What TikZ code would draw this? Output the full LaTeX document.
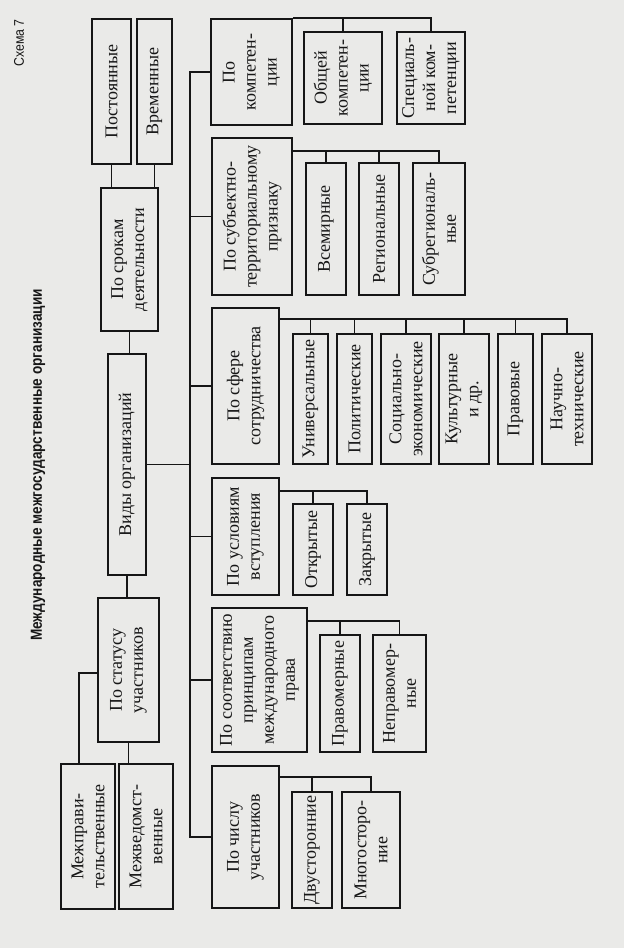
\documentclass[tikz,border=0pt]{standalone}
\usepackage{fontspec}
\setmainfont{Liberation Serif}
\newfontfamily\titlefont[FakeStretch=0.85]{Liberation Sans}
\newfontfamily\schemefont[FakeStretch=0.88]{Liberation Sans}
\definecolor{paper}{RGB}{234,234,232}
\definecolor{ink}{RGB}{22,22,22}

\tikzstyle{box} = [draw=ink, text=ink, line width=1.9pt, rotate=90, align=center, inner sep=2pt, font=\fontsize{18}{21}\selectfont]
\tikzstyle{line} = [draw=ink, line width=1.9pt]

\begin{document}
\begin{tikzpicture}[x=1pt, y=-1pt]
\fill[paper] (0,0) rectangle (624,948);

\node (schema) [rotate=90, text=ink, font=\schemefont\fontsize{14}{16}\selectfont] at (19,43) {Схема 7};
\node (title) [rotate=90, text=ink, font=\titlefont\bfseries\fontsize{16}{19}\selectfont] at (38,465) {Международные межгосударственные организации};

% left column
\node (post) [box, minimum width=145pt, minimum height=39pt] at (111.5,91.5) {Постоянные};
\node (vrem) [box, minimum width=145pt, minimum height=35pt] at (154.5,91.5) {Временные};
\node (srok) [box, minimum width=143pt, minimum height=57pt] at (129.5,259.5) {По срокам\\деятельности};
\node (vid) [box, minimum width=221pt, minimum height=38pt] at (127,464.5) {Виды организаций};
\node (status) [box, minimum width=144pt, minimum height=61pt] at (128.5,670) {По статусу\\участников};
\node (mezhprav) [box, minimum width=145pt, minimum height=54pt] at (88,836.5) {Межправи-\\тельственные};
\node (mezhved) [box, minimum width=145pt, minimum height=54pt] at (146,836.5) {Межведомст-\\венные};

% kinds
\node (komp) [box, minimum width=106pt, minimum height=81pt] at (251.5,72) {По\\компетен-\\ции};
\node (obsh) [box, minimum width=92pt, minimum height=78pt] at (343,78) {Общей\\компетен-\\ции};
\node (spec) [box, minimum width=92pt, minimum height=68pt] at (431,78) {Специаль-\\ной ком-\\петенции};

\node (subj) [box, minimum width=157pt, minimum height=80pt] at (252,216.5) {По субъектно-\\территориальному\\признаку};
\node (vsem) [box, minimum width=132pt, minimum height=40pt] at (326,229) {Всемирные};
\node (reg) [box, minimum width=132pt, minimum height=40pt] at (379,229) {Региональные};
\node (subreg) [box, minimum width=132pt, minimum height=52pt] at (439,229) {Субрегиональ-\\ные};

\node (sfera) [box, minimum width=156pt, minimum height=67pt] at (245.5,386) {По сфере\\сотрудничества};
\node (univ) [box, minimum width=130pt, minimum height=35pt] at (310.5,399) {Универсальные};
\node (polit) [box, minimum width=130pt, minimum height=35pt] at (354.5,399) {Политические};
\node (soc) [box, minimum width=130pt, minimum height=50pt] at (406,399) {Социально-\\экономические};
\node (kult) [box, minimum width=130pt, minimum height=50pt] at (464,399) {Культурные\\и др.};
\node (prav) [box, minimum width=130pt, minimum height=35pt] at (515.5,399) {Правовые};
\node (nauch) [box, minimum width=130pt, minimum height=50pt] at (567,399) {Научно-\\технические};

\node (uslov) [box, minimum width=117pt, minimum height=67pt] at (245.5,536.5) {По условиям\\вступления};
\node (otkr) [box, minimum width=91pt, minimum height=40pt] at (313,549.5) {Открытые};
\node (zakr) [box, minimum width=91pt, minimum height=40pt] at (367,549.5) {Закрытые};

\node (sootv) [box, minimum width=144pt, minimum height=95pt] at (259.5,680) {По соответствию\\принципам\\международного\\права};
\node (pravom) [box, minimum width=117pt, minimum height=40pt] at (340,693.5) {Правомерные};
\node (neprav) [box, minimum width=117pt, minimum height=53pt] at (399.5,693.5) {Неправомер-\\ные};

\node (chislo) [box, minimum width=142pt, minimum height=67pt] at (245.5,837) {По числу\\участников};
\node (dvust) [box, minimum width=116pt, minimum height=40pt] at (312,850) {Двусторонние};
\node (mnogo) [box, minimum width=116pt, minimum height=58pt] at (371,850) {Многосторо-\\ние};

% left column links
\draw [line] (post.west) -- (post.west |- srok.east);
\draw [line] (vrem.west) -- (vrem.west |- srok.east);
\draw [line] (srok.west) -- (srok.west |- vid.east);
\draw [line] (vid.west) -- (vid.west |- status.east);
\draw [line] (status.west) -- (status.west |- mezhved.east);
\draw [line] ([yshift=-3pt]status.north) -| ([xshift=-9pt]mezhprav.east);

% spine
\coordinate (sp) at (190,0);
\draw [line] (vid.south) -- (vid.south -| sp);
\draw [line] (komp.north) -- (komp.north -| sp) -- (chislo.north -| sp) -- (chislo.north);
\foreach \n in {subj,sfera,uslov,sootv}
  \draw [line] (\n.north) -- (\n.north -| sp);

% groups
\draw [line] (komp.south east) -| (spec.east);
\draw [line] (obsh.east) -- (obsh.east |- komp.south east);

\coordinate (subjbar) at ([yshift=-14pt]subj.south east);
\draw [line] (subjbar) -| (subreg.east);
\foreach \c in {vsem,reg}
  \draw [line] (\c.east) -- (\c.east |- subjbar);

\coordinate (sferabar) at ([yshift=-12pt]sfera.south east);
\draw [line] (sferabar) -| (nauch.east);
\foreach \c in {univ,polit,soc,kult,prav}
  \draw [line] (\c.east) -- (\c.east |- sferabar);

\coordinate (uslovbar) at ([yshift=-14pt]uslov.south east);
\draw [line] (uslovbar) -| (zakr.east);
\draw [line] (otkr.east) -- (otkr.east |- uslovbar);

\coordinate (sootvbar) at ([yshift=-14pt]sootv.south east);
\draw [line] (sootvbar) -| (neprav.east);
\draw [line] (pravom.east) -- (pravom.east |- sootvbar);

\coordinate (chislobar) at ([yshift=-12pt]chislo.south east);
\draw [line] (chislobar) -| (mnogo.east);
\draw [line] (dvust.east) -- (dvust.east |- chislobar);

\end{tikzpicture}
\end{document}
